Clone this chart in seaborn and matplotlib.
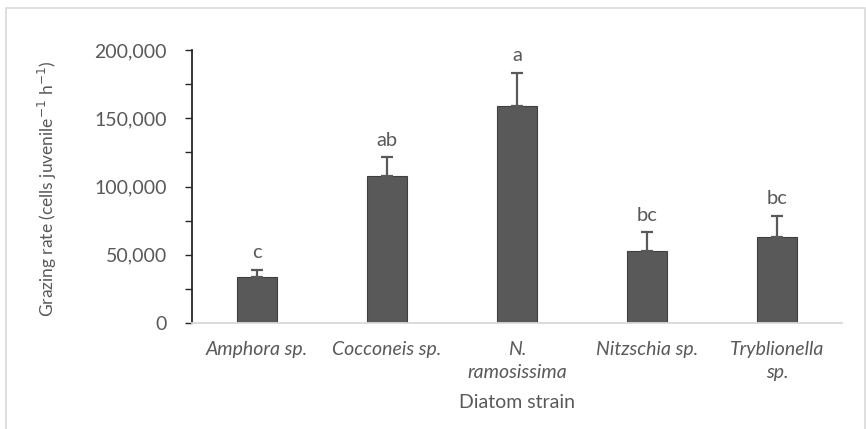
import matplotlib
matplotlib.use("Agg")
import matplotlib.pyplot as plt
import matplotlib.ticker as mticker
from matplotlib.patches import Rectangle
import numpy as np
import pandas as pd
import seaborn as sns

# Mean grazing rate per diatom strain, upper standard error and significance letters
strains = ["Amphora sp.", "Cocconeis sp.", "N.\nramosissima", "Nitzschia sp.", "Tryblionella\nsp."]
grazing_rate = [33600, 108000, 158800, 53000, 63000]
upper_error = [5400, 13500, 24700, 13400, 15600]
letters = ["c", "ab", "a", "bc", "bc"]

df = pd.DataFrame({"strain": strains, "rate": grazing_rate})

sns.set_theme(style="white")
plt.rcParams["font.family"] = ["Lato", "DejaVu Sans"]

text_grey = "#595959"
fig = plt.figure(figsize=(8.66, 4.29), dpi=100)
ax = fig.add_axes([0.2217, 0.247, 0.7506, 0.6364])

sns.barplot(data=df, x="strain", y="rate", color="#595959", width=0.31,
            saturation=1, errorbar=None, edgecolor="#3f3f3f", linewidth=0.8, ax=ax)

xpos = np.arange(len(strains))
ax.errorbar(xpos, grazing_rate, yerr=[np.zeros(len(strains)), upper_error],
            fmt="none", ecolor="#595959", elinewidth=1.6, capsize=4, capthick=1.6)

for x, y, e, lab in zip(xpos, grazing_rate, upper_error, letters):
    ax.annotate(lab, (x, y + e), xytext=(0, 6), textcoords="offset points",
                ha="center", va="bottom", fontsize=14.5, color=text_grey)

ax.set_xlim(-0.5, len(strains) - 0.5)
ax.set_ylim(0, 200000)
ax.yaxis.set_major_locator(mticker.MultipleLocator(50000))
ax.yaxis.set_minor_locator(mticker.MultipleLocator(25000))
ax.yaxis.set_major_formatter(mticker.StrMethodFormatter("{x:,.0f}"))
ax.tick_params(axis="y", which="both", direction="out", length=5, width=1,
               color="#262626", left=True, labelsize=14, labelcolor=text_grey, pad=13)
ax.tick_params(axis="x", length=0, labelsize=14, labelcolor=text_grey, pad=13)
for lbl in ax.get_xticklabels():
    lbl.set_fontstyle("italic")
    lbl.set_linespacing(1.45)

for side in ["top", "right"]:
    ax.spines[side].set_visible(False)
ax.spines["left"].set_color("#262626")
ax.spines["left"].set_linewidth(1.3)
ax.spines["bottom"].set_color("#d9d9d9")
ax.spines["bottom"].set_linewidth(1.3)

ax.set_xlabel("Diatom strain", fontsize=14, color=text_grey, labelpad=9)
ax.set_ylabel("Grazing rate (cells juvenile$^{-1}$ h$^{-1}$)", fontsize=12.5,
              color=text_grey)
ax.yaxis.set_label_coords(-0.205, 0.49)

# Chart-area frame
fig.patches.append(Rectangle((6 / 866, -0.1), 859 / 866, 1.1 - 8.5 / 429,
                             transform=fig.transFigure, fill=False,
                             edgecolor="#d9d9d9", linewidth=1.2))

fig.savefig("out.png", dpi=100, facecolor="white")
